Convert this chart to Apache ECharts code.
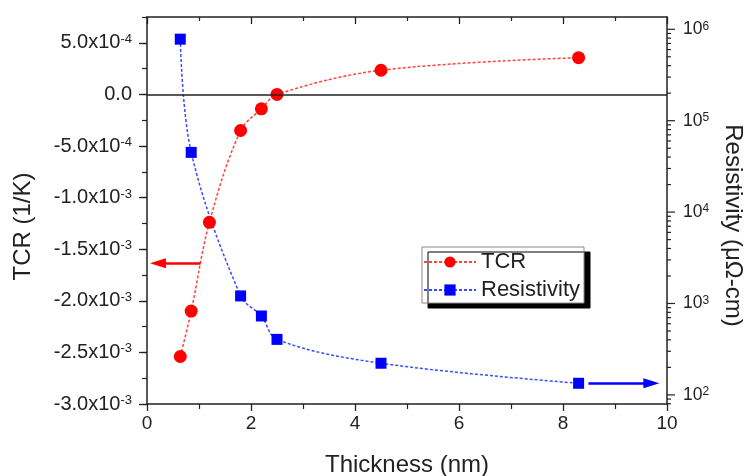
<!DOCTYPE html>
<html>
<head>
<meta charset="utf-8">
<script src="https://cdn.jsdelivr.net/npm/echarts@6/dist/echarts.min.js"></script>
<style>
  html, body { margin: 0; padding: 0; background: #fff; }
  #chart { width: 749px; height: 476px; }
</style>
</head>
<body>
<div id="chart"></div>
<script>
// Film thickness (nm) and the measured TCR / resistivity at each thickness
const tcrThickness = [0.64, 0.85, 1.2, 1.8, 2.2, 2.5, 4.5, 8.3];
const tcrValues = [-2.54e-3, -2.10e-3, -1.24e-3, -3.5e-4, -1.4e-4, 0.0, 2.34e-4, 3.56e-4];

const resThickness = [0.64, 0.85, 1.8, 2.2, 2.5, 4.5, 8.3];
const resValues = [7.8e5, 4.5e4, 1210, 730, 405, 222, 134];

// Left axis major tick values (TCR, 1/K)
const tcrMajorTicks = [-3.0e-3, -2.5e-3, -2.0e-3, -1.5e-3, -1.0e-3, -5.0e-4, 0.0, 5.0e-4];
// Right (log) axis tick values
const resMajorTicks = [1e2, 1e3, 1e4, 1e5, 1e6];
const resMinorTicks = [80, 90,
  200, 300, 400, 500, 600, 700, 800, 900,
  2000, 3000, 4000, 5000, 6000, 7000, 8000, 9000,
  2e4, 3e4, 4e4, 5e4, 6e4, 7e4, 8e4, 9e4,
  2e5, 3e5, 4e5, 5e5, 6e5, 7e5, 8e5, 9e5];

// Arrows pointing each curve to its own axis (line start, arrow-head centre)
const tcrArrow = { y: -1.637e-3, from: 1.03, to: 0.21 };
const resArrow = { y: 134, from: 8.49, to: 9.70 };

const FONT = "'Liberation Sans', Arial, sans-serif";
const INK = '#222';

function tcrLabel(v) {
  const k = Math.round(v / 2.5e-4);
  if (k % 2 !== 0) return '';
  if (k === 0) return '{m|0.0}';
  const vv = k * 2.5e-4;
  const e = Math.floor(Math.log10(Math.abs(vv)) + 1e-9);
  const m = (vv / Math.pow(10, e)).toFixed(1);
  return '{m|' + m + 'x10}{e|' + e + '}';
}

function resLabel(v) {
  const n = Math.round(Math.log10(v));
  return '{m|10}{e|' + n + '}';
}

const leftRich = {
  m: { fontSize: 20, fontFamily: FONT, color: INK },
  e: { fontSize: 13, fontFamily: FONT, color: INK, verticalAlign: 'top' }
};
const rightRich = {
  m: { fontSize: 17.5, fontFamily: FONT, color: INK },
  e: { fontSize: 12, fontFamily: FONT, color: INK, verticalAlign: 'top' }
};

const chart = echarts.init(document.getElementById('chart'), null, { renderer: 'canvas' });

chart.setOption({
  animation: false,
  backgroundColor: '#fff',
  grid: { left: 147, right: 82, top: 17, bottom: 72, containLabel: false, outerBoundsMode: 'none' },
  legend: {
    data: ['TCR', 'Resistivity'],
    orient: 'vertical',
    left: 422,
    top: 247,
    itemWidth: 52,
    itemHeight: 14,
    itemGap: 6,
    padding: [4, 4, 2, 1],
    backgroundColor: '#fff',
    borderColor: '#888',
    borderWidth: 1,
    shadowColor: '#000',
    shadowBlur: 0,
    shadowOffsetX: 6,
    shadowOffsetY: 5,
    textStyle: { fontSize: 22, fontFamily: FONT, color: INK }
  },
  xAxis: [
    {
      type: 'value', position: 'bottom', min: 0, max: 10, interval: 2,
      name: 'Thickness (nm)', nameLocation: 'middle', nameGap: 49,
      nameTextStyle: { fontSize: 24, fontFamily: FONT, color: INK },
      axisLine: { show: true, onZero: false, lineStyle: { color: INK, width: 1.5 } },
      axisTick: { show: true, inside: false, length: 7, lineStyle: { color: INK, width: 1.3 } },
      minorTick: { show: true, splitNumber: 2, length: 5, lineStyle: { color: INK, width: 1.2 } },
      axisLabel: { margin: 10, fontSize: 19, fontFamily: FONT, color: INK },
      splitLine: { show: false }
    },
    {
      type: 'value', position: 'top', min: 0, max: 10, interval: 2,
      axisLine: { show: true, onZero: false, lineStyle: { color: INK, width: 1.5 } },
      axisTick: { show: true, inside: true, length: 7, lineStyle: { color: INK, width: 1.3 } },
      minorTick: { show: true, splitNumber: 2, length: 4, lineStyle: { color: INK, width: 1.2 } },
      axisLabel: { show: false },
      splitLine: { show: false }
    }
  ],
  yAxis: [
    {
      type: 'value', position: 'left', min: -3.0e-3, max: 7.5e-4, interval: 2.5e-4,
      name: 'TCR (1/K)', nameLocation: 'middle', nameGap: 112,
      nameTextStyle: { fontSize: 24, fontFamily: FONT, color: INK, padding: [0, 32, 0, 0] },
      axisLine: { show: true, onZero: false, lineStyle: { color: INK, width: 1.5 } },
      axisTick: { show: true, inside: false, length: 5, lineStyle: { color: INK, width: 1.2 } },
      axisLabel: { interval: 0, margin: 15, formatter: tcrLabel, rich: leftRich },
      splitLine: { show: false }
    },
    {
      type: 'log', logBase: 10, position: 'right', min: 79.5, max: 1.363e6,
      name: 'Resistivity (\u03bc\u03a9-cm)', nameLocation: 'middle', nameGap: 54, nameRotate: -90,
      nameTextStyle: { fontSize: 24, fontFamily: FONT, color: INK, padding: [0, 0, 0, 30] },
      axisLine: { show: true, onZero: false, lineStyle: { color: INK, width: 1.5 } },
      axisTick: { show: false },
      axisLabel: { margin: 16, formatter: resLabel, rich: rightRich, showMinLabel: false, showMaxLabel: false },
      splitLine: { show: false }
    },
    {
      type: 'value', position: 'left', min: -3.0e-3, max: 7.5e-4, interval: 2.5e-4,
      axisLine: { show: false },
      axisTick: { show: true, inside: false, length: 8, customValues: tcrMajorTicks, lineStyle: { color: INK, width: 1.3 } },
      axisLabel: { show: false },
      splitLine: { show: false }
    }
  ],
  series: [
    {
      name: 'Resistivity', type: 'line', xAxisIndex: 0, yAxisIndex: 1,
      data: resThickness.map((x, i) => [x, resValues[i]]),
      smooth: 0.35,
      symbol: 'rect', symbolSize: 11,
      itemStyle: { color: '#0000ff' },
      lineStyle: { color: '#3a4bff', width: 1.5, type: [3, 2] },
      z: 3,
      markLine: {
        silent: true, animation: false, label: { show: false },
        data: [[
          { coord: [resArrow.from, resArrow.y], symbol: 'none', lineStyle: { color: '#0000ff', width: 2.5, type: 'solid' } },
          { coord: [resArrow.to, resArrow.y], symbol: 'triangle', symbolSize: [10, 16], lineStyle: { color: '#0000ff', width: 2.5, type: 'solid' } }
        ]]
      }
    },
    {
      name: 'TCR', type: 'line', xAxisIndex: 0, yAxisIndex: 0,
      data: tcrThickness.map((x, i) => [x, tcrValues[i]]),
      smooth: 0.35,
      symbol: 'circle', symbolSize: 13,
      itemStyle: { color: '#ff0000' },
      lineStyle: { color: '#ff4040', width: 1.5, type: [3, 2] },
      z: 4,
      markLine: {
        silent: true, animation: false, label: { show: false },
        symbol: ['none', 'none'],
        data: [
          { yAxis: 0, lineStyle: { color: INK, width: 1.5, type: 'solid' } },
          [
            { coord: [tcrArrow.from, tcrArrow.y], symbol: 'none', lineStyle: { color: '#ff0000', width: 2.5, type: 'solid' } },
            { coord: [tcrArrow.to, tcrArrow.y], symbol: 'triangle', symbolSize: [10, 16], lineStyle: { color: '#ff0000', width: 2.5, type: 'solid' } }
          ]
        ]
      }
    },
    {
      // Log-axis ticks at decades and at 2..9 within each decade
      name: 'resTicks', type: 'custom', xAxisIndex: 0, yAxisIndex: 1,
      silent: true, clip: false,
      data: resMajorTicks.map(v => [10, v, 8]).concat(resMinorTicks.map(v => [10, v, 4])),
      renderItem: function (params, api) {
        const p = api.coord([api.value(0), api.value(1)]);
        const len = api.value(2);
        return {
          type: 'line',
          shape: { x1: p[0], y1: p[1], x2: p[0] + len, y2: p[1] },
          style: { stroke: INK, lineWidth: 1.2 }
        };
      },
      z: 5
    }
  ]
});
</script>
</body>
</html>
